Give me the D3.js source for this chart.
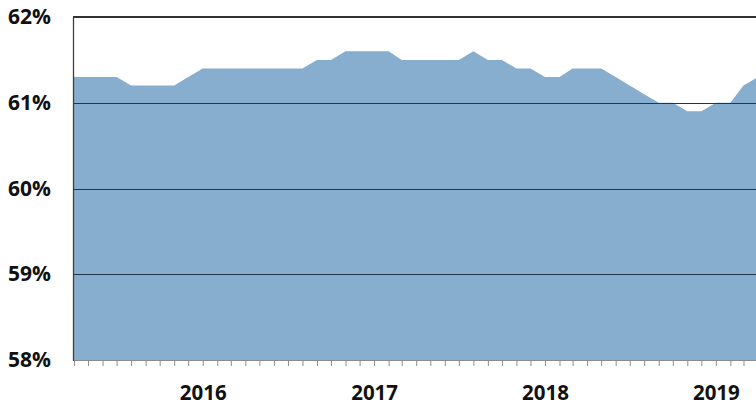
<!DOCTYPE html>
<html>
<head>
<meta charset="utf-8">
<script src="https://cdn.jsdelivr.net/npm/d3@7"></script>
<style>
  body { margin: 0; background: #fff; }
  svg { display: block; font-family: "Open Sans", sans-serif; font-weight: 700; }
</style>
</head>
<body>
<script>
// monthly series, Apr 2015 .. Apr 2019
const firstMonth = new Date(2015, 3, 1),
    lastMonth = new Date(2019, 4, 1);
const months = d3.timeMonth.range(firstMonth, lastMonth);

const values = [
  61.3, 61.3, 61.3, 61.3, 61.2, 61.2, 61.2, 61.2, 61.3,
  61.4, 61.4, 61.4, 61.4, 61.4, 61.4, 61.4, 61.4, 61.5, 61.5, 61.6, 61.6,
  61.6, 61.6, 61.5, 61.5, 61.5, 61.5, 61.5, 61.6, 61.5, 61.5, 61.4, 61.4,
  61.3, 61.3, 61.4, 61.4, 61.4, 61.3, 61.2, 61.1, 61.0, 61.0, 60.9, 60.9,
  61.0, 61.0, 61.2, 61.3
];

const yTicks = [58, 59, 60, 61, 62];
const gridTicks = [59, 60, 61];

const data = months.map((m, i) => ({ date: m, value: values[i] }));

const width = 756,
    height = 406,
    plotLeft = 74,
    plotTop = 17,
    plotBottom = 360;

const svg = d3.select('body').append('svg')
    .attr('width', width)
    .attr('height', height);

const x = d3.scaleTime()
    .domain([months[0], months[months.length - 1]])
    .range([plotLeft, 758]);

const y = d3.scaleLinear()
    .domain([58, 62])
    .range([plotBottom, plotTop]);

const area = d3.area()
    .x(d => x(d.date))
    .y0(y(58))
    .y1(d => y(d.value));

svg.append('path')
    .datum(data)
    .attr('d', area)
    .attr('fill', '#87adcf');

// gridlines sit on top of the fill
svg.append('g')
  .selectAll('line')
  .data(gridTicks)
  .enter().append('line')
    .attr('x1', plotLeft)
    .attr('x2', width)
    .attr('y1', d => Math.round(y(d)) + 0.5)
    .attr('y2', d => Math.round(y(d)) + 0.5)
    .attr('stroke', '#22364b')
    .attr('stroke-width', 1.2);

// top border (62%)
svg.append('line')
    .attr('x1', plotLeft - 1)
    .attr('x2', width)
    .attr('y1', y(62))
    .attr('y2', y(62))
    .attr('stroke', '#333')
    .attr('stroke-width', 2);

// month ticks
const xAxis = svg.append('g')
    .attr('transform', `translate(0,${plotBottom})`)
    .call(d3.axisBottom(x)
        .ticks(d3.timeMonth.every(1))
        .tickSize(6)
        .tickSizeOuter(0)
        .tickFormat(''));
xAxis.selectAll('line').attr('stroke', '#8c8c8c');
xAxis.select('.domain').attr('stroke', '#8c8c8c');

// year labels
const yearAxis = svg.append('g')
    .attr('transform', `translate(0,${plotBottom})`)
    .call(d3.axisBottom(x)
        .ticks(d3.timeYear.every(1))
        .tickSize(0)
        .tickPadding(25)
        .tickFormat(d3.timeFormat('%Y')));
yearAxis.select('.domain').remove();
yearAxis.selectAll('text')
    .attr('font-family', '"Open Sans", sans-serif')
    .attr('font-weight', 700)
    .attr('font-size', 20.5)
    .attr('fill', '#111');

// y labels
const yAxis = svg.append('g')
    .attr('transform', `translate(${plotLeft},0)`)
    .call(d3.axisLeft(y)
        .tickValues(yTicks)
        .tickSize(0)
        .tickPadding(23)
        .tickFormat(d => d + '%'));
yAxis.select('.domain').remove();
yAxis.selectAll('text')
    .attr('font-family', '"Open Sans", sans-serif')
    .attr('font-weight', 700)
    .attr('font-size', 21)
    .attr('fill', '#111');

// left axis line
svg.append('line')
    .attr('x1', plotLeft - 0.5)
    .attr('x2', plotLeft - 0.5)
    .attr('y1', plotTop)
    .attr('y2', plotBottom + 1)
    .attr('stroke', '#404040')
    .attr('stroke-width', 1.3);
</script>
</body>
</html>
